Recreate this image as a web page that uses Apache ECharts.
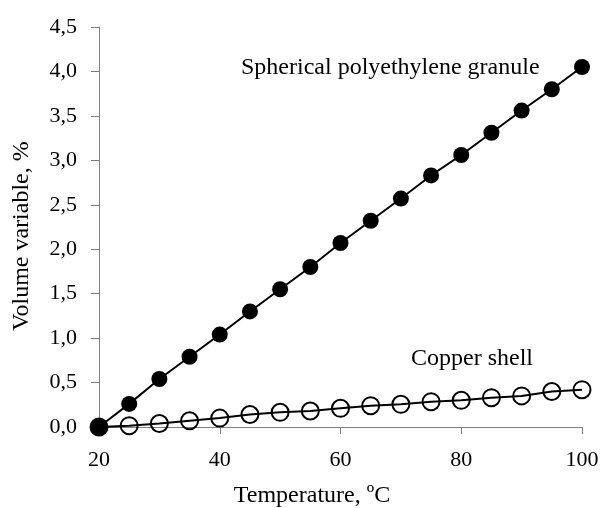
<!DOCTYPE html>
<html>
<head>
<meta charset="utf-8">
<script src="https://cdn.jsdelivr.net/npm/echarts@6/dist/echarts.min.js"></script>
<style>html,body{margin:0;padding:0;background:#fff;}#c{width:602px;height:508px;}</style>
</head>
<body>
<div id="c"></div>
<script>
const temperature = [20,25,30,35,40,45,50,55,60,65,70,75,80,85,90,95,100];
const polyethylene = [0,0.26,0.54,0.79,1.04,1.30,1.55,1.80,2.07,2.32,2.57,2.83,3.06,3.31,3.56,3.80,4.05];
const copper = [0,0.015,0.04,0.07,0.10,0.14,0.165,0.18,0.21,0.24,0.255,0.285,0.30,0.33,0.35,0.40,0.42];
const xTicks = [20,40,60,80,100];
const yTicks = [0,0.5,1,1.5,2,2.5,3,3.5,4,4.5];
const xTitle = 'Temperature, ºC';
const yTitle = 'Volume variable, %';
const label1 = 'Spherical polyethylene granule';
const label2 = 'Copper shell';

const FONT = '"Liberation Serif", "Times New Roman", serif';
const chart = echarts.init(document.getElementById('c'), null, {renderer:'canvas'});
const pair = (xs, ys) => xs.map((x,i)=>[x, ys[i]]);
chart.setOption({
  animation:false,
  backgroundColor:'#fff',
  grid:{left:99, right:20, top:27, bottom:81},
  xAxis:{
    type:'value', min:xTicks[0], max:xTicks[xTicks.length-1], interval:20,
    axisLine:{show:true, lineStyle:{color:'#808080', width:1}},
    axisTick:{show:true, inside:false, length:7, lineStyle:{color:'#808080'}},
    splitLine:{show:false},
    axisLabel:{margin:22, color:'#000', fontFamily:FONT, fontSize:22}
  },
  yAxis:{
    type:'value', min:yTicks[0], max:yTicks[yTicks.length-1], interval:0.5,
    axisLine:{show:true, lineStyle:{color:'#808080', width:1}},
    axisTick:{show:true, inside:false, length:8, lineStyle:{color:'#808080'}},
    splitLine:{show:false},
    axisLabel:{margin:22, color:'#000', fontFamily:FONT, fontSize:22,
      formatter:v=>v.toFixed(1).replace('.',',')}
  },
  series:[
    {
      type:'line', name:label2, data:pair(temperature, copper), z:2,
      symbol:'circle', symbolSize:17,
      lineStyle:{color:'#000', width:2},
      itemStyle:{color:'rgba(0,0,0,0)', borderColor:'#000', borderWidth:2}
    },
    {
      type:'line', name:label1, data:pair(temperature, polyethylene), z:3,
      symbol:'circle', symbolSize:16,
      lineStyle:{color:'#000', width:2},
      itemStyle:{color:'#000', borderColor:'#000', borderWidth:0}
    }
  ],
  graphic:[
    {type:'text', x:241, y:68, style:{text:label1, font:'24px '+FONT, fill:'#000', align:'left', verticalAlign:'middle'}},
    {type:'text', x:411, y:359, style:{text:label2, font:'24px '+FONT, fill:'#000', align:'left', verticalAlign:'middle'}},
    {type:'text', x:312, y:496, style:{text:xTitle, font:'24px '+FONT, fill:'#000', align:'center', verticalAlign:'middle'}},
    {type:'text', x:22, y:236, rotation:Math.PI/2, style:{text:yTitle, font:'24px '+FONT, fill:'#000', align:'center', verticalAlign:'middle'}}
  ]
});
</script>
</body>
</html>
